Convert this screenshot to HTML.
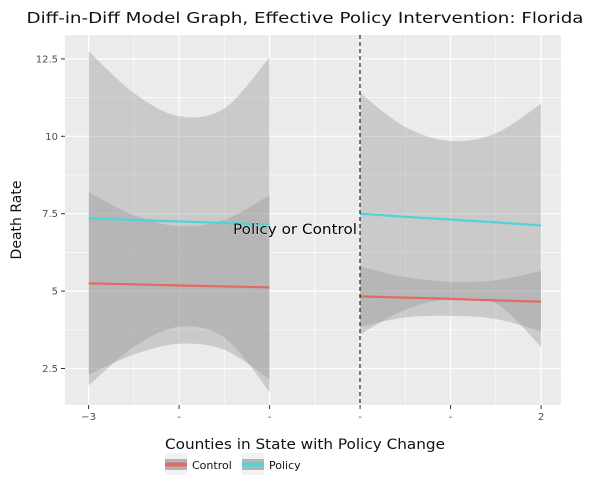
<!DOCTYPE html>
<html><head><meta charset="utf-8"><style>
body{margin:0;background:#fff;}
svg{display:block;font-family:"DejaVu Sans","Liberation Sans",sans-serif;}
</style></head><body>
<svg id="chart" width="594" height="502">
<text x="305" y="23" text-anchor="middle" font-size="15" fill="#111" textLength="557" lengthAdjust="spacingAndGlyphs">Diff-in-Diff Model Graph, Effective Policy Intervention: Florida</text>
<rect x="65" y="35" width="496" height="370" fill="#EBEBEB"/>
<g id="grid"></g>
<g id="ribbons"></g>
<g id="lines"></g>
<g id="axes"></g>
<line x1="360" y1="35" x2="360" y2="405" stroke="#000" stroke-dasharray="4,3" stroke-width="1"/>
<text x="295" y="234" text-anchor="middle" font-size="14" fill="#000" stroke="#fff" stroke-width="0.6" paint-order="stroke" textLength="124" lengthAdjust="spacingAndGlyphs">Policy or Control</text>
<text transform="translate(21,220) rotate(-90)" text-anchor="middle" font-size="14" fill="#111">Death Rate</text>
<text x="165" y="449" font-size="14" fill="#111" textLength="280" lengthAdjust="spacingAndGlyphs">Counties in State with Policy Change</text>
<g>
<rect x="165" y="453" width="22" height="22" fill="#F2F2F2"/>
<rect x="165" y="459" width="22" height="11" fill="#B3B3B3"/>
<rect x="165" y="462.5" width="22" height="4" fill="#E06B63"/>
<text x="192" y="469" font-size="11" fill="#111">Control</text>
</g>
<g>
<rect x="242" y="453" width="22" height="22" fill="#F2F2F2"/>
<rect x="242" y="459" width="22" height="11" fill="#B3B3B3"/>
<rect x="242" y="462.5" width="22" height="4" fill="#4FD3DA"/>
<text x="269" y="469" font-size="11" fill="#111">Policy</text>
</g>
</svg>
<script>
const xTicks=[-3,-2,-1,0,1,2];
const xTickLabels=["\u22123","-","-","-","-","2"];
const yTicks=[2.5,5,7.5,10,12.5];
const yTickLabels=["2.5","5","7.5","10","12.5"];
const leftX=[-3,-2.5,-2,-1.5,-1];
const rightX=[0,0.5,1,1.5,2];
const policyLeft=[7.35,7.3,7.25,7.2,7.15];
const controlLeft=[5.25,5.22,5.18,5.15,5.12];
const policyRight=[7.5,7.4,7.31,7.22,7.12];
const controlRight=[4.83,4.79,4.75,4.7,4.66];
const policyLeftUpper=[12.75,11.4,10.65,10.9,12.55];
const policyLeftLower=[1.95,3.2,3.85,3.5,1.75];
const controlLeftUpper=[8.2,7.45,7.1,7.3,8.1];
const controlLeftLower=[2.3,2.95,3.3,3.1,2.15];
const policyRightUpper=[11.4,10.3,9.85,10.1,11.05];
const policyRightLower=[3.6,4.4,4.75,4.6,3.2];
const controlRightUpper=[5.8,5.45,5.3,5.35,5.65];
const controlRightLower=[3.85,4.15,4.2,4.1,3.7];

const NS="http://www.w3.org/2000/svg";
const X=v=>88.6+(v+3)*90.5;
const Y=v=>213.7-(v-7.5)*30.96;
function mk(tag,attrs,parent){const e=document.createElementNS(NS,tag);for(const k in attrs)e.setAttribute(k,attrs[k]);parent.appendChild(e);return e;}
function smooth(xs,ys){
  const p=xs.map((x,i)=>[X(x),Y(ys[i])]);
  let d="M"+p[0][0]+","+p[0][1];
  for(let i=0;i<p.length-1;i++){
    const p0=p[i-1]||p[i],p1=p[i],p2=p[i+1],p3=p[i+2]||p2;
    const c1=[p1[0]+(p2[0]-p0[0])/6,p1[1]+(p2[1]-p0[1])/6];
    const c2=[p2[0]-(p3[0]-p1[0])/6,p2[1]-(p3[1]-p1[1])/6];
    d+=" C"+c1+" "+c2+" "+p2;
  }
  return d;
}
function ribbon(xs,up,lo){
  const a=smooth(xs,up);
  const b=smooth(xs.slice().reverse(),lo.slice().reverse()).replace(/^M/,"L");
  return a+" "+b+" Z";
}
const grid=document.getElementById('grid');
const minorX=[-2.5,-1.5,-0.5,0.5,1.5];
minorX.forEach(v=>{const l=mk('line',{x1:X(v),x2:X(v),y1:35,y2:405,stroke:'#fff','stroke-width':0.6},grid);

});
const minorY=[3.75,6.25,8.75,11.25];
minorY.forEach(v=>{const l=mk('line',{x1:65,x2:561,y1:Y(v),y2:Y(v),stroke:'#fff','stroke-width':0.6},grid);

});
xTicks.forEach(v=>{const l=mk('line',{x1:X(v),x2:X(v),y1:35,y2:405,stroke:'#fff','stroke-width':1.2},grid);

});
yTicks.forEach(v=>{const l=mk('line',{x1:65,x2:561,y1:Y(v),y2:Y(v),stroke:'#fff','stroke-width':1.2},grid);

});
const rib=document.getElementById('ribbons');
[[leftX,policyLeftUpper,policyLeftLower,'policy-ci-pre'],[leftX,controlLeftUpper,controlLeftLower,'control-ci-pre'],
 [rightX,policyRightUpper,policyRightLower,'policy-ci-post'],[rightX,controlRightUpper,controlRightLower,'control-ci-post']].forEach(r=>{
  const p=mk('path',{d:ribbon(r[0],r[1],r[2]),fill:'#999','fill-opacity':0.4},rib);
  
  
});
const ln=document.getElementById('lines');
[[leftX,controlLeft,'#E06B63','control-line-pre'],[leftX,policyLeft,'#4FD3DA','policy-line-pre'],
 [rightX,controlRight,'#E06B63','control-line-post'],[rightX,policyRight,'#4FD3DA','policy-line-post']].forEach(r=>{
  const p=mk('polyline',{points:r[0].map((x,i)=>X(x)+","+Y(r[1][i])).join(" "),fill:'none',stroke:r[2],'stroke-width':2.2},ln);
  
  
});
const ax=document.getElementById('axes');
xTicks.forEach((v,i)=>{
  mk('line',{x1:X(v),x2:X(v),y1:405,y2:409,stroke:'#333'},ax);
  const t=mk('text',{x:X(v),y:420,'text-anchor':'middle','font-size':10,fill:'#4D4D4D'},ax);
  t.textContent=xTickLabels[i];
  
  
});
yTicks.forEach((v,i)=>{
  mk('line',{x1:61,x2:65,y1:Y(v),y2:Y(v),stroke:'#333'},ax);
  const t=mk('text',{x:58,y:Y(v)+3.5,'text-anchor':'end','font-size':10,fill:'#4D4D4D'},ax);
  t.textContent=yTickLabels[i];
  
  
});
</script>
</body></html>
